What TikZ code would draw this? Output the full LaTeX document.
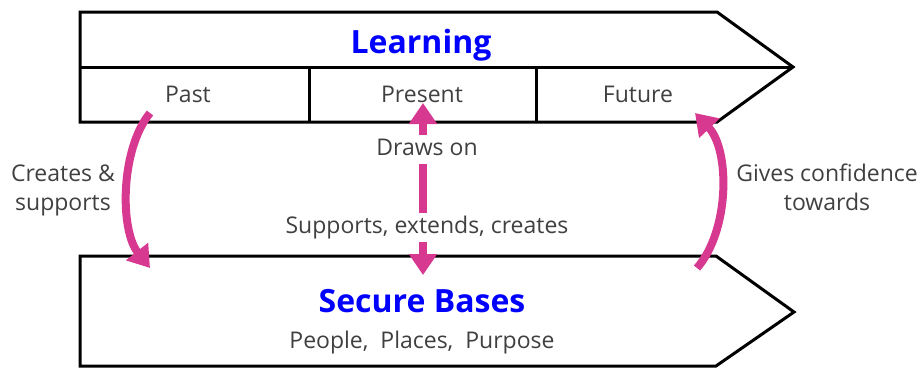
\documentclass[tikz,border=0pt]{standalone}
\usepackage{fontspec}
\setmainfont{Open Sans}
\usetikzlibrary{arrows.meta}
\definecolor{arrowpink}{RGB}{214,57,143}
\definecolor{labelgray}{RGB}{64,64,64}
\definecolor{titleblue}{RGB}{0,0,255}
\begin{document}
\begin{tikzpicture}[x=1pt,y=-1pt,
  shapeline/.style={draw=black, line width=3pt, line join=miter},
  heading/.style={font=\fontsize{32}{36}\selectfont\bfseries, text=titleblue, inner sep=0pt, anchor=base},
  txt/.style={font=\fontsize{23}{29}\selectfont, text=labelgray, align=center, inner sep=0pt, anchor=base},
  gaptxt/.style={txt, fill=white, inner xsep=2pt, inner ysep=0pt, execute at begin node=\strut},
  pinkarrow/.style={draw=arrowpink, line width=8pt, -{Triangle[length=21pt,width=27pt]}},
]
\useasboundingbox (0,0) rectangle (920,367);

% Learning arrow with its three time cells
\draw[shapeline] (80,12) -- (717,12) -- (793,67) -- (717,122) -- (80,122) -- cycle;
\draw[shapeline] (80,67) -- (793,67);
\draw[shapeline] (309,67) -- (309,122);
\draw[shapeline] (536,67) -- (536,122);

% Secure Bases arrow
\draw[shapeline] (80,256) -- (716,256) -- (794,312) -- (716,366) -- (80,366) -- cycle;

% Headings and cell texts
\node[heading] (learning) at (421,53) {Learning};
\node[txt] (past) at (188,102) {Past};
\node[txt] (present) at (422,102) {Present};
\node[txt] (future) at (638,102) {Future};
\node[heading] (bases) at (422,312) {Secure Bases};
\node[txt] (ppp) at (422,348) {People,\ \ Places,\ \ Purpose};

% Arrow end points
\coordinate (pastFoot) at (150,113);
\coordinate (basesLeftTip) at (150,268);
\coordinate (presentTip) at (423,103);
\coordinate (basesMidTip) at (423,275);
\coordinate (basesRightFoot) at (697,268);
\coordinate (futureTip) at (695,113);

% Connectors
\draw[pinkarrow] (pastFoot) .. controls (120,150) and (120,230) .. (basesLeftTip);
\draw[pinkarrow] (basesRightFoot) .. controls (730,230) and (730,150) .. (futureTip);
\draw[pinkarrow, {Triangle[length=21pt,width=27pt]}-{Triangle[length=21pt,width=27pt]}] (presentTip) -- (basesMidTip);

% Connector labels
\node[gaptxt] (drawson) at (427,155) {Draws on};
\node[gaptxt] (supports) at (427,233) {Supports, extends, creates};
\node[txt] (creates) at (63,210) {Creates \&\\supports};
\node[txt] (gives) at (827,210) {Gives confidence\\towards};
\end{tikzpicture}
\end{document}
